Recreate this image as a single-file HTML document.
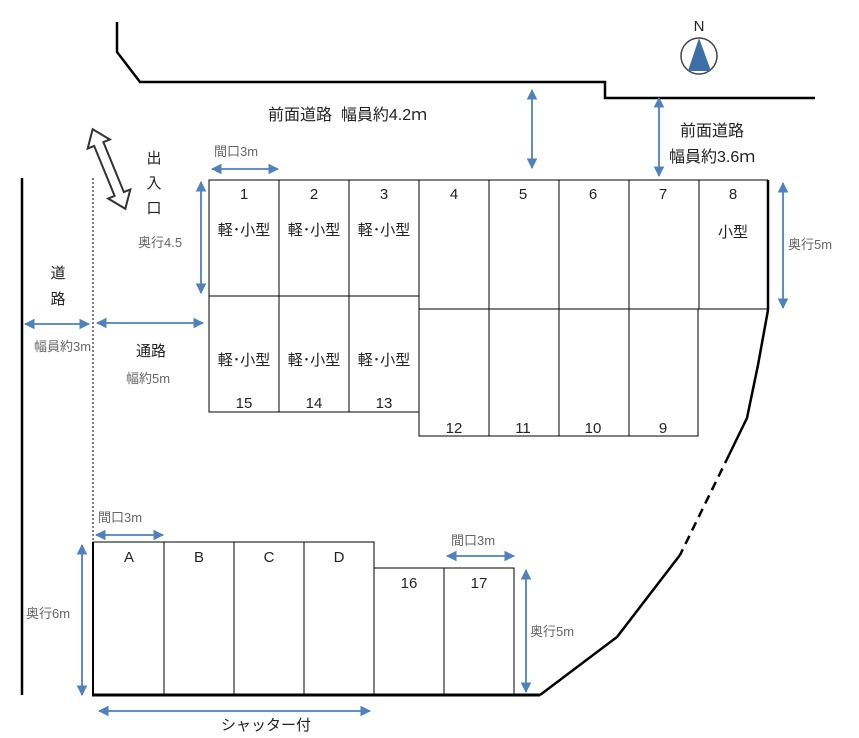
<!DOCTYPE html>
<html><head><meta charset="utf-8"><style>
html,body{margin:0;padding:0;background:#fff;}
svg{display:block;}
text{font-family:"Liberation Sans","Noto Sans CJK JP",sans-serif;}
.n{font-size:15px;fill:#222;text-anchor:middle;}
.k{font-size:15px;fill:#222;text-anchor:middle;}
.g{font-size:13px;fill:#666;}
</style></head><body>
<svg width="859" height="738" viewBox="0 0 859 738" xmlns="http://www.w3.org/2000/svg">
<defs>
<marker id="a" viewBox="0 0 10 10" refX="9" refY="5" markerWidth="6" markerHeight="6" orient="auto-start-reverse"><path d="M0,0L10,5L0,10z" fill="#4f81bd"/></marker>
</defs>
<g fill="none" stroke="#000">
<polyline points="117,22 117,52 140,82 605,82 605,98 815,98" stroke-width="2.5"/>
<line x1="22" y1="178" x2="22" y2="695" stroke-width="2.5"/>
<line x1="93" y1="178" x2="93" y2="542" stroke-width="1" stroke-dasharray="2,2"/>
<g stroke-width="1">
<rect x="209" y="180" width="210" height="232"/>
<line x1="209" y1="296" x2="419" y2="296"/>
<line x1="279" y1="180" x2="279" y2="412"/><line x1="349" y1="180" x2="349" y2="412"/>
<polyline points="419,180 768,180"/>
<polyline points="419,309 768,309"/>
<polyline points="419,309 419,436 698,436 698,309"/>
<line x1="489" y1="180" x2="489" y2="436"/><line x1="559" y1="180" x2="559" y2="436"/><line x1="629" y1="180" x2="629" y2="436"/><line x1="699" y1="180" x2="699" y2="309"/>
<rect x="93" y="542" width="281" height="153"/>
<line x1="164" y1="542" x2="164" y2="695"/><line x1="234" y1="542" x2="234" y2="695"/><line x1="304" y1="542" x2="304" y2="695"/>
<polyline points="374,568 514,568 514,695"/><line x1="444" y1="568" x2="444" y2="695"/>
</g>
<line x1="768" y1="180" x2="768" y2="310" stroke-width="2.5"/>
<line x1="93" y1="542" x2="93" y2="695" stroke-width="2"/>
<line x1="92" y1="695" x2="540" y2="695" stroke-width="3"/>
<polyline points="768,310 758,365 747,418 729,455" stroke-width="2.5"/>
<line x1="729" y1="455" x2="680" y2="555" stroke-width="2.5" stroke-dasharray="9,6"/>
<polyline points="680,555 617,637 540,695" stroke-width="2.5"/>
</g>
<g transform="translate(109,169) rotate(67.7)" fill="#fff" stroke="#333" stroke-width="2">
<polygon points="-43,0 -27,-12 -27,-5 27,-5 27,-12 43,0 27,12 27,5 -27,5 -27,12"/>
</g>
<circle cx="699" cy="56" r="18" fill="#fff" stroke="#444" stroke-width="1.5"/>
<polygon points="699,38 688,71 711,71" fill="#3e6ea8"/>
<text x="699" y="31" class="n" font-size="14">N</text>
<g stroke="#4f81bd" stroke-width="1.8" fill="none" marker-start="url(#a)" marker-end="url(#a)">
<line x1="212" y1="169" x2="278" y2="169"/>
<line x1="201" y1="182" x2="201" y2="293"/>
<line x1="25" y1="324" x2="89" y2="324"/>
<line x1="97" y1="323" x2="203" y2="323"/>
<line x1="532" y1="90" x2="532" y2="168"/>
<line x1="659" y1="98" x2="659" y2="176"/>
<line x1="783" y1="183" x2="783" y2="308"/>
<line x1="96" y1="535" x2="163" y2="535"/>
<line x1="82" y1="545" x2="82" y2="695"/>
<line x1="99" y1="711" x2="370" y2="711"/>
<line x1="447" y1="556" x2="514" y2="556"/>
<line x1="526" y1="570" x2="526" y2="692"/>
</g>
<g class="n">
<text x="244" y="199">1</text><text x="314" y="199">2</text><text x="384" y="199">3</text>
<text x="454" y="199">4</text><text x="523" y="199">5</text><text x="593" y="199">6</text><text x="663" y="199">7</text><text x="733" y="199">8</text>
<text x="244" y="408">15</text><text x="314" y="408">14</text><text x="384" y="408">13</text>
<text x="454" y="433">12</text><text x="523" y="433">11</text><text x="593" y="433">10</text><text x="663" y="433">9</text>
<text x="129" y="562">A</text><text x="199" y="562">B</text><text x="269" y="562">C</text><text x="339" y="562">D</text>
<text x="409" y="588">16</text><text x="479" y="588">17</text>
</g>
<g class="k">
<text x="244" y="235">軽･小型</text><text x="314" y="235">軽･小型</text><text x="384" y="235">軽･小型</text>
<text x="244" y="365">軽･小型</text><text x="314" y="365">軽･小型</text><text x="384" y="365">軽･小型</text>
<text x="733" y="237">小型</text>
<text x="58" y="278">道</text><text x="58" y="304">路</text>
<text x="151" y="356">通路</text>
<text x="154" y="163">出</text><text x="154" y="188">入</text><text x="154" y="213">口</text>
<text x="266" y="730">シャッター付</text>
</g>
<text x="268" y="120" font-size="16" fill="#222" xml:space="preserve">前面道路  幅員約4.2ｍ</text>
<text x="680" y="136" font-size="16" fill="#222">前面道路</text>
<text x="669" y="162" font-size="16" fill="#222">幅員約3.6ｍ</text>
<g class="g">
<text x="214" y="156">間口3m</text>
<text x="138" y="247">奥行4.5</text>
<text x="34" y="351">幅員約3m</text>
<text x="126" y="383">幅約5m</text>
<text x="788" y="249">奥行5m</text>
<text x="98" y="522">間口3m</text>
<text x="26" y="618">奥行6m</text>
<text x="451" y="545">間口3m</text>
<text x="530" y="636">奥行5m</text>
</g>
</svg>
</body></html>
